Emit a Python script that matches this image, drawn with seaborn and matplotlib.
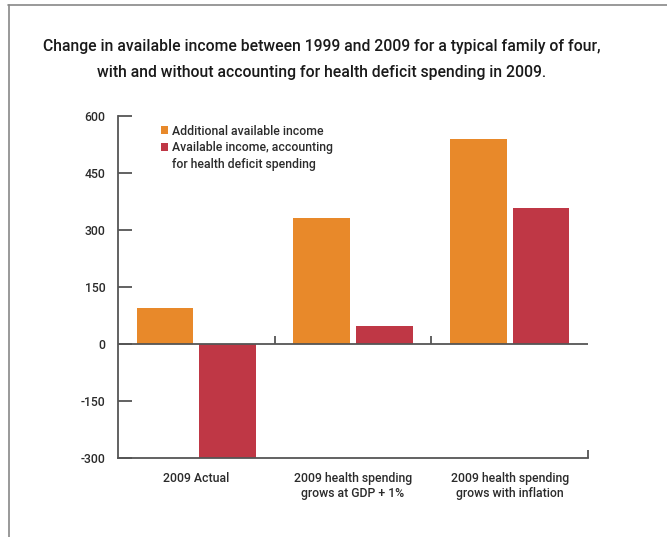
import matplotlib
matplotlib.use("Agg")
import matplotlib.pyplot as plt
import matplotlib.patches as mpatches
import matplotlib.lines as mlines
import seaborn as sns
import pandas as pd

# Values (dollars) read per scenario
categories = [
    "2009 Actual",
    "2009 health spending\ngrows at GDP + 1%",
    "2009 health spending\ngrows with inflation",
]
additional_income = [95, 331, 539]
income_after_health = [-300, 47, 358]
series_names = [
    "Additional available income",
    "Available income, accounting for health deficit spending",
]
y_ticks = [-300, -150, 0, 150, 300, 450, 600]

ORANGE = "#E8892A"
RED = "#BF3745"
AXIS = "#555555"
TEXT = "#2b2b2b"

df = pd.DataFrame({
    "scenario": categories * 2,
    "series": [series_names[0]] * 3 + [series_names[1]] * 3,
    "value": additional_income + income_after_health,
})

sns.set_theme(style="white")
plt.rcParams["font.family"] = ["Roboto", "DejaVu Sans"]
plt.rcParams["font.weight"] = "medium"

fig = plt.figure(figsize=(6.67, 5.37), dpi=100)
ax = fig.add_axes([118 / 667, 1 - 458 / 537, 470 / 667, 342 / 537])

sns.barplot(
    data=df, x="scenario", y="value", hue="series",
    palette=[ORANGE, RED], width=0.8, gap=0.1,
    saturation=1, linewidth=0, legend=False, ax=ax,
)

ax.set_xlim(-0.5, 2.5)
ax.set_ylim(-300, 600)
ax.set_yticks(y_ticks)
ax.set_yticklabels([str(v) for v in y_ticks])
ax.set_xlabel("")
ax.set_ylabel("")

for side in ("top", "right"):
    ax.spines[side].set_visible(False)
for side in ("left", "bottom"):
    ax.spines[side].set_color(AXIS)
    ax.spines[side].set_linewidth(1.3)

ax.tick_params(axis="y", direction="in", length=10, width=1.3, color=AXIS,
               labelsize=8.8, labelcolor=TEXT, pad=9, left=True)
ax.tick_params(axis="x", length=0, labelsize=8.8, labelcolor=TEXT, pad=10)

# zero baseline with category separators
ax.axhline(0, color=AXIS, lw=1.3, zorder=3)
sep = ax.get_xaxis_transform()
for xb in (0.5, 1.5):
    ax.plot([xb, xb], [1 / 3, 1 / 3 + 0.022], color=AXIS, lw=1.3,
            transform=sep, zorder=3, solid_capstyle="butt")
ax.plot([2.5, 2.5], [0, 0.022], color=AXIS, lw=1.3, transform=sep,
        zorder=3, solid_capstyle="butt", clip_on=False)

# legend
handles = [
    mpatches.Patch(facecolor=ORANGE, edgecolor="none"),
    mpatches.Patch(facecolor=RED, edgecolor="none"),
    mpatches.Patch(facecolor="none", edgecolor="none"),
]
labels = ["Additional available income", "Available income, accounting",
          "for health deficit spending"]
leg = ax.legend(handles, labels, loc="upper left", bbox_to_anchor=(0.086, 0.982),
                frameon=False, fontsize=8.8, handlelength=0.6, handleheight=0.6,
                handletextpad=0.35, labelspacing=0.3, borderaxespad=0,
                borderpad=0.2)
for t in leg.get_texts():
    t.set_color(TEXT)

fig.text(322 / 667, 1 - 47 / 537,
         "Change in available income between 1999 and 2009 for a typical family of four,",
         ha="center", va="center", fontsize=11.3, color="#1a1a1a")
fig.text(322 / 667, 1 - 72 / 537,
         "with and without accounting for health deficit spending in 2009.",
         ha="center", va="center", fontsize=11.3, color="#1a1a1a")

# page frame
fig.add_artist(mlines.Line2D([8 / 667, 1], [1 - 5 / 537] * 2, color="#888888", lw=1.2))
fig.add_artist(mlines.Line2D([9 / 667] * 2, [0, 1 - 5 / 537], color="#888888", lw=1.2))

fig.savefig("out.png", dpi=100)
